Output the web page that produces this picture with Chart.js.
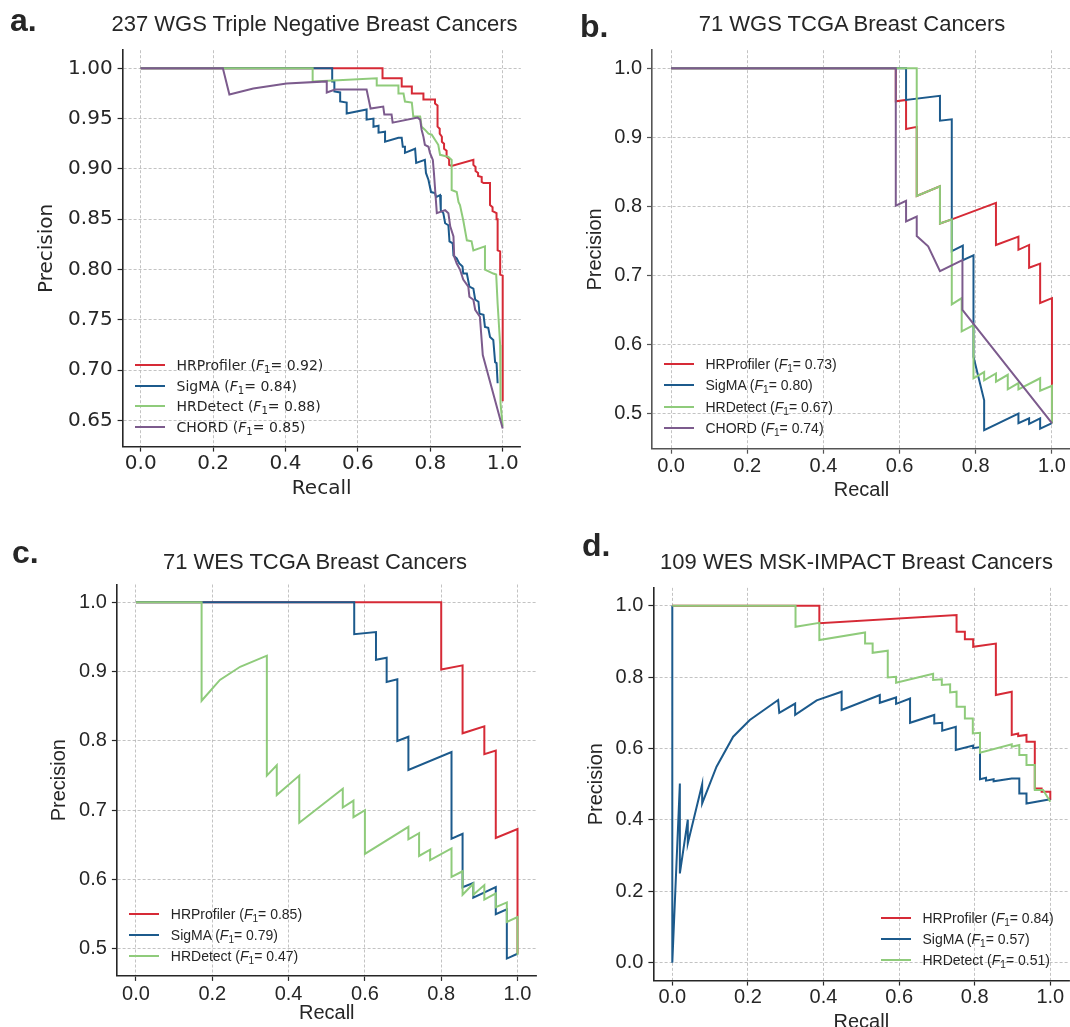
<!DOCTYPE html>
<html><head><meta charset="utf-8">
<script src="https://cdn.jsdelivr.net/npm/chart.js@4.4.1/dist/chart.umd.min.js"></script>
<style>
html,body{margin:0;padding:0;background:#fff;}
body{width:1070px;height:1027px;overflow:hidden;position:relative;font-family:'Liberation Sans',Arial,sans-serif;color:#262626;}
.letter{position:absolute;font-weight:bold;font-size:32px;line-height:32px;color:#262626;}
.title{position:absolute;width:600px;text-align:center;font-size:22px;line-height:22px;color:#262626;white-space:nowrap;}
canvas{position:absolute;}
.legend{position:absolute;color:#262626;font-size:14px;}
.legend .row{display:flex;align-items:center;white-space:nowrap;}
.legend .sw{width:30px;height:2px;margin-right:11.5px;flex:none;}
.legend sub{font-size:0.72em;vertical-align:-0.28em;line-height:0;}
</style></head><body>
<script>
// ---------- shared ----------
const SERIES = ['HRProfiler', 'SigMA', 'HRDetect', 'CHORD'];
const COLORS = ['#d62a36', '#1c5a8c', '#8fcb7b', '#7c5b8d'];
const xTicks = [0, 0.2, 0.4, 0.6, 0.8, 1.0];

// ---------- panel a: 237 WGS Triple Negative Breast Cancers ----------
const aTitle = '237 WGS Triple Negative Breast Cancers';
const aYTicks = [0.65, 0.70, 0.75, 0.80, 0.85, 0.90, 0.95, 1.00];
const aF1 = ['0.92', '0.84', '0.88', '0.85'];
const aHRProfiler = [[0,1],[0.668,1],[0.668,0.990],[0.721,0.990],[0.721,0.982],[0.749,0.982],[0.749,0.975],[0.781,0.975],[0.781,0.969],[0.813,0.969],[0.813,0.965],[0.82,0.963],[0.82,0.942],[0.826,0.940],[0.826,0.935],[0.832,0.932],[0.832,0.927],[0.838,0.925],[0.838,0.920],[0.845,0.918],[0.845,0.912],[0.852,0.910],[0.852,0.904],[0.859,0.903],[0.919,0.909],[0.919,0.904],[0.925,0.902],[0.925,0.898],[0.932,0.896],[0.932,0.893],[0.942,0.892],[0.942,0.887],[0.947,0.886],[0.965,0.886],[0.965,0.864],[0.972,0.862],[0.972,0.858],[0.983,0.856],[0.983,0.850],[0.986,0.850],[0.986,0.819],[0.993,0.818],[0.993,0.795],[1.0,0.794],[1.0,0.669]];
const aSigMA = [[0,1],[0.529,1],[0.529,0.987],[0.535,0.987],[0.535,0.977],[0.551,0.976],[0.551,0.967],[0.569,0.966],[0.569,0.955],[0.624,0.959],[0.624,0.949],[0.643,0.950],[0.643,0.942],[0.657,0.943],[0.657,0.936],[0.675,0.937],[0.675,0.927],[0.712,0.931],[0.721,0.931],[0.724,0.922],[0.730,0.922],[0.730,0.916],[0.758,0.920],[0.761,0.906],[0.785,0.909],[0.788,0.896],[0.795,0.889],[0.802,0.877],[0.813,0.876],[0.816,0.872],[0.827,0.874],[0.829,0.859],[0.836,0.856],[0.841,0.846],[0.850,0.844],[0.853,0.828],[0.862,0.826],[0.864,0.814],[0.873,0.811],[0.880,0.806],[0.889,0.803],[0.891,0.796],[0.901,0.796],[0.908,0.783],[0.919,0.781],[0.924,0.770],[0.933,0.768],[0.936,0.756],[0.947,0.755],[0.951,0.743],[0.960,0.742],[0.965,0.733],[0.974,0.730],[0.979,0.708],[0.983,0.707],[0.986,0.687]];
const aHRDetect = [[0,1],[0.475,1],[0.475,0.987],[0.532,0.988],[0.652,0.990],[0.652,0.983],[0.712,0.983],[0.712,0.975],[0.726,0.975],[0.730,0.967],[0.749,0.966],[0.753,0.952],[0.772,0.952],[0.776,0.942],[0.785,0.939],[0.795,0.935],[0.804,0.934],[0.813,0.929],[0.822,0.924],[0.827,0.914],[0.850,0.912],[0.859,0.909],[0.859,0.879],[0.873,0.877],[0.878,0.867],[0.882,0.864],[0.891,0.849],[0.901,0.829],[0.914,0.828],[0.919,0.819],[0.951,0.823],[0.951,0.800],[0.974,0.796],[0.982,0.795],[0.986,0.766],[0.993,0.725],[0.994,0.667],[1.0,0.644]];
const aCHORD = [[0,1],[0.227,1],[0.245,0.974],[0.311,0.980],[0.403,0.985],[0.514,0.987],[0.514,0.976],[0.537,0.979],[0.624,0.979],[0.635,0.960],[0.670,0.962],[0.673,0.954],[0.693,0.954],[0.696,0.946],[0.765,0.951],[0.772,0.949],[0.776,0.939],[0.781,0.932],[0.785,0.924],[0.795,0.922],[0.799,0.916],[0.807,0.909],[0.810,0.896],[0.818,0.856],[0.841,0.859],[0.850,0.856],[0.855,0.843],[0.864,0.833],[0.866,0.813],[0.873,0.806],[0.882,0.800],[0.891,0.790],[0.905,0.783],[0.908,0.773],[0.919,0.770],[0.924,0.760],[0.937,0.753],[0.945,0.715],[1.0,0.642]];

// ---------- panel b: 71 WGS TCGA Breast Cancers ----------
const bTitle = '71 WGS TCGA Breast Cancers';
const bYTicks = [0.5, 0.6, 0.7, 0.8, 0.9, 1.0];
const bF1 = ['0.73', '0.80', '0.67', '0.74'];
const bHRProfiler = [[0,1],[0.590,1],[0.590,0.952],[0.617,0.954],[0.617,0.912],[0.645,0.915],[0.645,0.815],[0.706,0.829],[0.706,0.775],[0.737,0.781],[0.853,0.805],[0.853,0.744],[0.912,0.756],[0.912,0.737],[0.940,0.744],[0.940,0.711],[0.969,0.717],[0.969,0.660],[1.0,0.667],[1.0,0.486]];
const bSigMA = [[0,1],[0.617,1],[0.617,0.954],[0.706,0.960],[0.706,0.924],[0.737,0.926],[0.737,0.735],[0.766,0.743],[0.766,0.722],[0.794,0.729],[0.794,0.582],[0.822,0.519],[0.822,0.476],[0.912,0.500],[0.912,0.486],[0.940,0.493],[0.940,0.485],[0.969,0.493],[0.969,0.478],[1.0,0.486]];
const bHRDetect = [[0,1],[0.645,1],[0.645,0.815],[0.706,0.829],[0.706,0.775],[0.737,0.781],[0.737,0.658],[0.763,0.667],[0.763,0.619],[0.794,0.628],[0.794,0.551],[0.822,0.560],[0.822,0.548],[0.853,0.558],[0.853,0.546],[0.884,0.556],[0.884,0.535],[0.912,0.544],[0.912,0.535],[0.969,0.551],[0.969,0.533],[1.0,0.540],[1.0,0.486]];
const bCHORD = [[0,1],[0.590,1],[0.590,0.801],[0.617,0.808],[0.617,0.778],[0.645,0.785],[0.645,0.757],[0.675,0.742],[0.706,0.706],[0.765,0.722],[0.765,0.650],[1.0,0.486]];

// ---------- panel c: 71 WES TCGA Breast Cancers ----------
const cTitle = '71 WES TCGA Breast Cancers';
const cYTicks = [0.5, 0.6, 0.7, 0.8, 0.9, 1.0];
const cF1 = ['0.85', '0.79', '0.47'];
const cHRProfiler = [[0,1],[0.800,1],[0.800,0.903],[0.856,0.909],[0.856,0.811],[0.913,0.821],[0.913,0.781],[0.943,0.786],[0.943,0.660],[1.0,0.673],[1.0,0.493]];
const cSigMA = [[0,1],[0.572,1],[0.572,0.954],[0.629,0.957],[0.629,0.917],[0.657,0.920],[0.657,0.885],[0.685,0.889],[0.685,0.800],[0.714,0.806],[0.714,0.758],[0.827,0.784],[0.827,0.659],[0.856,0.666],[0.856,0.589],[0.884,0.595],[0.884,0.574],[0.943,0.589],[0.943,0.550],[0.972,0.557],[0.972,0.486],[1.0,0.493]];
const cHRDetect = [[0,1],[0.172,1],[0.172,0.858],[0.220,0.888],[0.273,0.907],[0.343,0.923],[0.343,0.750],[0.369,0.765],[0.369,0.722],[0.428,0.750],[0.428,0.682],[0.542,0.731],[0.542,0.704],[0.570,0.714],[0.570,0.690],[0.600,0.700],[0.600,0.637],[0.714,0.676],[0.714,0.658],[0.742,0.667],[0.742,0.634],[0.771,0.643],[0.771,0.628],[0.827,0.645],[0.827,0.604],[0.856,0.612],[0.856,0.578],[0.884,0.594],[0.884,0.578],[0.913,0.592],[0.913,0.571],[0.943,0.580],[0.943,0.560],[0.972,0.567],[0.972,0.539],[1.0,0.546],[1.0,0.491]];

// ---------- panel d: 109 WES MSK-IMPACT Breast Cancers ----------
const dTitle = '109 WES MSK-IMPACT Breast Cancers';
const dYTicks = [0.0, 0.2, 0.4, 0.6, 0.8, 1.0];
const dF1 = ['0.84', '0.57', '0.51'];
const dHRProfiler = [[0,1],[0.389,1],[0.389,0.951],[0.752,0.974],[0.752,0.927],[0.774,0.927],[0.774,0.906],[0.796,0.906],[0.796,0.885],[0.856,0.894],[0.856,0.750],[0.898,0.759],[0.898,0.638],[0.915,0.642],[0.915,0.635],[0.937,0.638],[0.937,0.619],[0.959,0.619],[0.959,0.488],[0.977,0.488],[0.977,0.479],[1.0,0.479],[1.0,0.456]];
const dSigMA = [[0,1],[0,0],[0.020,0.502],[0.020,0.250],[0.041,0.401],[0.041,0.334],[0.079,0.500],[0.079,0.446],[0.117,0.549],[0.161,0.633],[0.205,0.680],[0.280,0.736],[0.283,0.700],[0.325,0.726],[0.325,0.694],[0.382,0.735],[0.448,0.759],[0.448,0.708],[0.549,0.750],[0.549,0.728],[0.592,0.743],[0.592,0.725],[0.629,0.740],[0.629,0.672],[0.693,0.694],[0.693,0.670],[0.714,0.672],[0.714,0.650],[0.750,0.661],[0.750,0.596],[0.796,0.608],[0.796,0.601],[0.814,0.604],[0.814,0.514],[0.83,0.518],[0.83,0.510],[0.85,0.514],[0.85,0.508],[0.898,0.516],[0.918,0.516],[0.918,0.474],[0.937,0.474],[0.937,0.446],[1.0,0.458]];
const dHRDetect = [[0,1],[0.326,1],[0.326,0.941],[0.389,0.952],[0.389,0.904],[0.510,0.925],[0.510,0.894],[0.530,0.894],[0.530,0.868],[0.570,0.874],[0.570,0.799],[0.592,0.801],[0.592,0.784],[0.690,0.809],[0.690,0.792],[0.713,0.794],[0.713,0.778],[0.735,0.780],[0.735,0.757],[0.752,0.759],[0.752,0.717],[0.774,0.717],[0.774,0.684],[0.795,0.684],[0.795,0.642],[0.814,0.644],[0.814,0.588],[0.898,0.612],[0.898,0.605],[0.918,0.610],[0.918,0.582],[0.937,0.582],[0.937,0.554],[0.959,0.554],[0.959,0.484],[0.981,0.484],[1.0,0.451]];

// ---------- layout (positions / styles only) ----------
const PANELS = [
  {letter:'a.', letterPos:[10,4], title:aTitle, titlePos:[314.5,13], family:"'DejaVu Sans', sans-serif", decimals:2,
   area:[122.6,50.2,520.8,446.6], yRange:[0.624,1.018], yTicks:aYTicks, series:[aHRProfiler,aSigMA,aHRDetect,aCHORD], f1:aF1,
   spine:'#262626', yTitlePad:12.4, xTitlePad:6, tickPad:0,
   legend:{left:135, top:354.7, row:20.6}},
  {letter:'b.', letterPos:[580,10], title:bTitle, titlePos:[852,13], family:"'Liberation Sans', Arial, sans-serif", decimals:1,
   area:[652.0,50.2,1071.0,448.7], yRange:[0.449,1.026], yTicks:bYTicks, series:[bHRProfiler,bSigMA,bHRDetect,bCHORD], f1:bF1,
   spine:'#555555', yTitlePad:31, xTitlePad:6.5, tickPad:1,
   legend:{left:664, top:353.7, row:21.2}},
  {letter:'c.', letterPos:[12,536], title:cTitle, titlePos:[315,551], family:"'Liberation Sans', Arial, sans-serif", decimals:1,
   area:[116.9,584.5,536.6,975.9], yRange:[0.461,1.0257], yTicks:cYTicks, series:[cHRProfiler,cSigMA,cHRDetect], f1:cF1,
   spine:'#262626', yTitlePad:31, xTitlePad:10, tickPad:2,
   legend:{left:129.3, top:903.9, row:20.9}},
  {letter:'d.', letterPos:[582,529], title:dTitle, titlePos:[856.5,551], family:"'Liberation Sans', Arial, sans-serif", decimals:1,
   area:[653.4,587.85,1069.2,980.55], yRange:[-0.05,1.05], yTicks:dYTicks, series:[dHRProfiler,dSigMA,dHRDetect], f1:dF1,
   spine:'#262626', yTitlePad:31.6, xTitlePad:6, tickPad:0,
   legend:{left:881, top:907.5, row:21}}
];

const GRID = '#b4b4b4';
const TEXT = '#262626';

function addDiv(cls, html, style) {
  const d = document.createElement('div');
  d.className = cls; d.innerHTML = html;
  Object.assign(d.style, style);
  document.body.appendChild(d);
  return d;
}

PANELS.forEach(p => {
  const [l, t, r, b] = p.area;
  const YW = 100, XH = 60, PADT = 30, PADR = 30;
  const cl = Math.floor(l - YW), ct = Math.floor(t - PADT);
  const cw = Math.ceil(r + PADR - cl), ch = Math.ceil(b + XH + 2 - ct);
  const cv = document.createElement('canvas');
  cv.width = cw; cv.height = ch;
  cv.style.left = cl + 'px'; cv.style.top = ct + 'px';
  cv.style.width = cw + 'px'; cv.style.height = ch + 'px';
  document.body.appendChild(cv);
  const yW = l - cl, pTop = t - ct, pRight = cw - (r - cl), pBottom = ch - (b - ct) - XH;
  const font = (s) => ({family: p.family, size: s});

  const datasets = p.series.map((s, i) => ({
    label: SERIES[i],
    data: s.map(v => ({x: v[0], y: v[1]})),
    borderColor: COLORS[i], backgroundColor: COLORS[i],
    borderWidth: 2, pointRadius: 0, pointHoverRadius: 0, tension: 0, fill: false,
    order: 10 - i
  }));

  new Chart(cv, {
    type: 'line',
    data: {datasets},
    options: {
      responsive: false, animation: false, devicePixelRatio: 1,
      layout: {padding: {left: 0, top: pTop, right: pRight, bottom: pBottom}},
      plugins: {legend: {display: false}, tooltip: {enabled: false}, title: {display: false}},
      scales: {
        x: {
          type: 'linear', min: -0.05, max: 1.05,
          afterBuildTicks: s => { s.ticks = xTicks.map(v => ({value: v})); },
          afterFit: s => { s.height = XH; },
          ticks: {callback: v => Number(v).toFixed(1), font: font(20), color: TEXT, padding: p.tickPad, maxRotation: 0, autoSkip: false},
          grid: {color: GRID, lineWidth: 0.8, drawTicks: true, tickLength: 5, tickColor: p.spine, tickWidth: 1.2, tickBorderDash: []},
          border: {display: true, color: p.spine, width: 1.6, dash: [3, 2]},
          title: {display: true, text: 'Recall', font: font(20), color: TEXT, padding: {top: 0, bottom: p.xTitlePad}}
        },
        y: {
          type: 'linear', min: p.yRange[0], max: p.yRange[1],
          afterBuildTicks: s => { s.ticks = p.yTicks.map(v => ({value: v})); },
          afterFit: s => { s.width = yW; },
          ticks: {callback: v => Number(v).toFixed(p.decimals), font: font(20), color: TEXT, padding: 5, autoSkip: false},
          grid: {color: GRID, lineWidth: 0.8, drawTicks: true, tickLength: 5, tickColor: p.spine, tickWidth: 1.2, tickBorderDash: []},
          border: {display: true, color: p.spine, width: 1.6, dash: [3, 2]},
          title: {display: true, text: 'Precision', font: font(20), color: TEXT, padding: {top: p.yTitlePad, bottom: 0}}
        }
      }
    }
  });

  addDiv('letter', p.letter, {left: p.letterPos[0] + 'px', top: p.letterPos[1] + 'px'});
  addDiv('title', p.title, {left: (p.titlePos[0] - 300) + 'px', top: p.titlePos[1] + 'px'});

  const lg = addDiv('legend', '', {left: p.legend.left + 'px', top: p.legend.top + 'px', fontFamily: p.family});
  p.series.forEach((s, i) => {
    const row = document.createElement('div');
    row.className = 'row';
    row.style.height = p.legend.row + 'px';
    row.innerHTML = '<div class="sw" style="background:' + COLORS[i] + '"></div><span>' + SERIES[i] +
      ' (<i>F</i><sub>1</sub>= ' + p.f1[i] + ')</span>';
    lg.appendChild(row);
  });
});
</script>
</body></html>
